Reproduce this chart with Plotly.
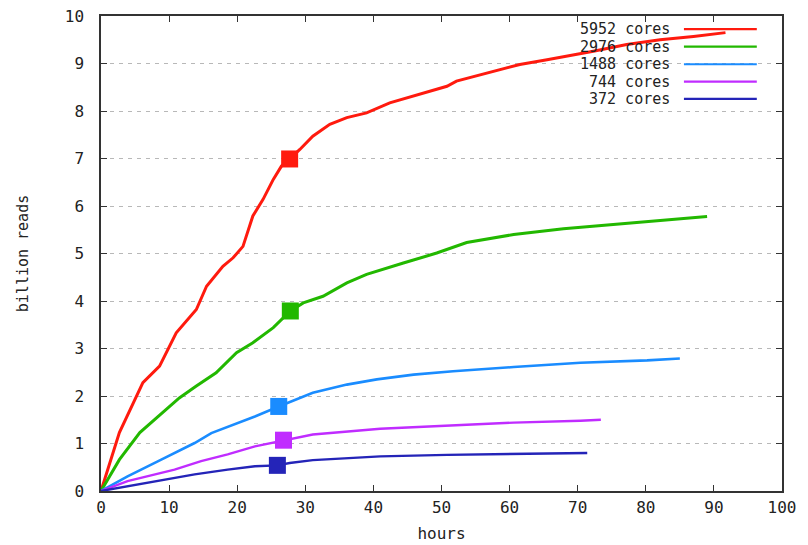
import plotly.graph_objects as go

# ---- data ----
series_names = ["5952 cores", "2976 cores", "1488 cores", "744 cores", "372 cores"]
series_colors = ["#ff1a0e", "#22b800", "#1a8cff", "#c02cff", "#2424b8"]
series_widths = [3, 3, 2.6, 2.4, 2.4]

hours_5952 = [0, 2.7, 6.15, 8.6, 11.05, 14, 15.5, 17.9, 19.4, 20.85, 22.3, 23.8, 25.3, 26.5, 27.7,
              29.2, 31.1, 33.6, 36.1, 39, 42.4, 46.8, 50.8, 52.2, 56.6, 61.5, 65.5, 70.4,
              72.3, 77.2, 82.1, 87, 91.7]
reads_5952 = [0, 1.23, 2.28, 2.63, 3.33, 3.82, 4.31, 4.73, 4.91, 5.15, 5.79, 6.14, 6.56, 6.84, 6.99,
              7.19, 7.47, 7.72, 7.86, 7.96, 8.17, 8.35, 8.52, 8.63, 8.80, 8.98, 9.08, 9.2,
              9.26, 9.4, 9.5, 9.57, 9.65]

hours_2976 = [0, 2.7, 5.7, 9.1, 11.5, 14, 16.9, 19.9, 22.3, 25.3, 27.8, 29.7, 32.6, 36.1, 39,
              44.4, 49.3, 53.7, 60.6, 67.9, 75.3, 85, 89]
reads_2976 = [0, 0.66, 1.23, 1.65, 1.96, 2.21, 2.49, 2.91, 3.12, 3.44, 3.79, 3.96, 4.10, 4.38, 4.56,
              4.80, 5.01, 5.23, 5.40, 5.52, 5.61, 5.73, 5.78]

hours_1488 = [0, 3.9, 8.85, 13.75, 16.2, 19.6, 22.6, 26.1, 31.1, 36.1, 40.5, 45.9, 51.7, 60.6,
              70.4, 80.2, 85]
reads_1488 = [0, 0.31, 0.66, 1.01, 1.22, 1.40, 1.57, 1.78, 2.07, 2.24, 2.35, 2.45, 2.52, 2.61,
              2.70, 2.75, 2.79]

hours_744 = [0, 3.9, 8.85, 10.8, 14.7, 18.6, 22.6, 26.8, 31.1, 41, 50.8, 60.6, 70.4, 73.4]
reads_744 = [0, 0.21, 0.38, 0.45, 0.63, 0.77, 0.94, 1.07, 1.19, 1.31, 1.38, 1.44, 1.48, 1.50]

hours_372 = [0, 3.9, 8.85, 13.75, 18.6, 22.6, 25.9, 27.7, 31.1, 41, 50.8, 60.6, 71.4]
reads_372 = [0, 0.10, 0.24, 0.35, 0.45, 0.52, 0.54, 0.59, 0.65, 0.73, 0.76, 0.78, 0.80]

series_hours = [hours_5952, hours_2976, hours_1488, hours_744, hours_372]
series_reads = [reads_5952, reads_2976, reads_1488, reads_744, reads_372]

# highlighted points (square markers)
marker_hours = [27.7, 27.8, 26.1, 26.8, 25.9]
marker_reads = [6.99, 3.79, 1.78, 1.07, 0.54]

x_ticks = list(range(0, 101, 10))
y_ticks = list(range(0, 11, 1))

FONT = "DejaVu Sans Mono"

fig = go.Figure()
for name, col, w, hx, ry in zip(series_names, series_colors, series_widths, series_hours, series_reads):
    fig.add_trace(go.Scatter(x=hx, y=ry, mode="lines", name=name,
                             line=dict(color=col, width=w, shape="linear"),
                             showlegend=False))
for col, mx, my in zip(series_colors, marker_hours, marker_reads):
    fig.add_trace(go.Scatter(x=[mx], y=[my], mode="markers",
                             marker=dict(symbol="square", size=17, color=col, line=dict(width=0)),
                             showlegend=False))

# legend drawn gnuplot-style: text on the left, line sample on the right
fig.add_shape(type="rect", xref="paper", yref="paper", x0=0.605, x1=0.982, y0=0.811, y1=0.998,
              fillcolor="white", line=dict(width=0), layer="below")
row_y = [0.9722, 0.9355, 0.8984, 0.8618, 0.8254]
for name, col, yy in zip(series_names, series_colors, row_y):
    fig.add_annotation(text=name, xref="paper", yref="paper", x=0.838, y=yy,
                       xanchor="right", yanchor="middle", showarrow=False,
                       font=dict(family=FONT, size=15, color="#222222"))
    fig.add_shape(type="line", xref="paper", yref="paper", x0=0.856, x1=0.963, y0=yy, y1=yy,
                  line=dict(color=col, width=2.2))

axis_common = dict(showline=True, linecolor="#333333", linewidth=1.5, mirror="ticks",
                   ticks="inside", ticklen=6, tickwidth=1, tickcolor="#333333",
                   zeroline=False, automargin=False,
                   tickfont=dict(family=FONT, size=16, color="#222222"))

fig.update_xaxes(range=[0, 100], tickvals=x_ticks, showgrid=False,
                 title=dict(text="hours", font=dict(family=FONT, size=16, color="#222222"), standoff=12),
                 ticklabelstandoff=1, **axis_common)
fig.update_yaxes(range=[0, 10], tickvals=y_ticks, showgrid=True, gridcolor="#b8b8b8",
                 gridwidth=1, griddash="4px,5px",
                 title=dict(text="billion reads", font=dict(family=FONT, size=15, color="#222222"), standoff=33),
                 ticklabelstandoff=12, **axis_common)

fig.update_layout(width=808, height=545, plot_bgcolor="white", paper_bgcolor="white",
                  margin=dict(l=101, r=26, t=16, b=54), showlegend=False)

fig.write_html("out.html", config={"displayModeBar": False},
               post_script="document.body.style.margin='0';document.body.style.overflow='hidden';")
